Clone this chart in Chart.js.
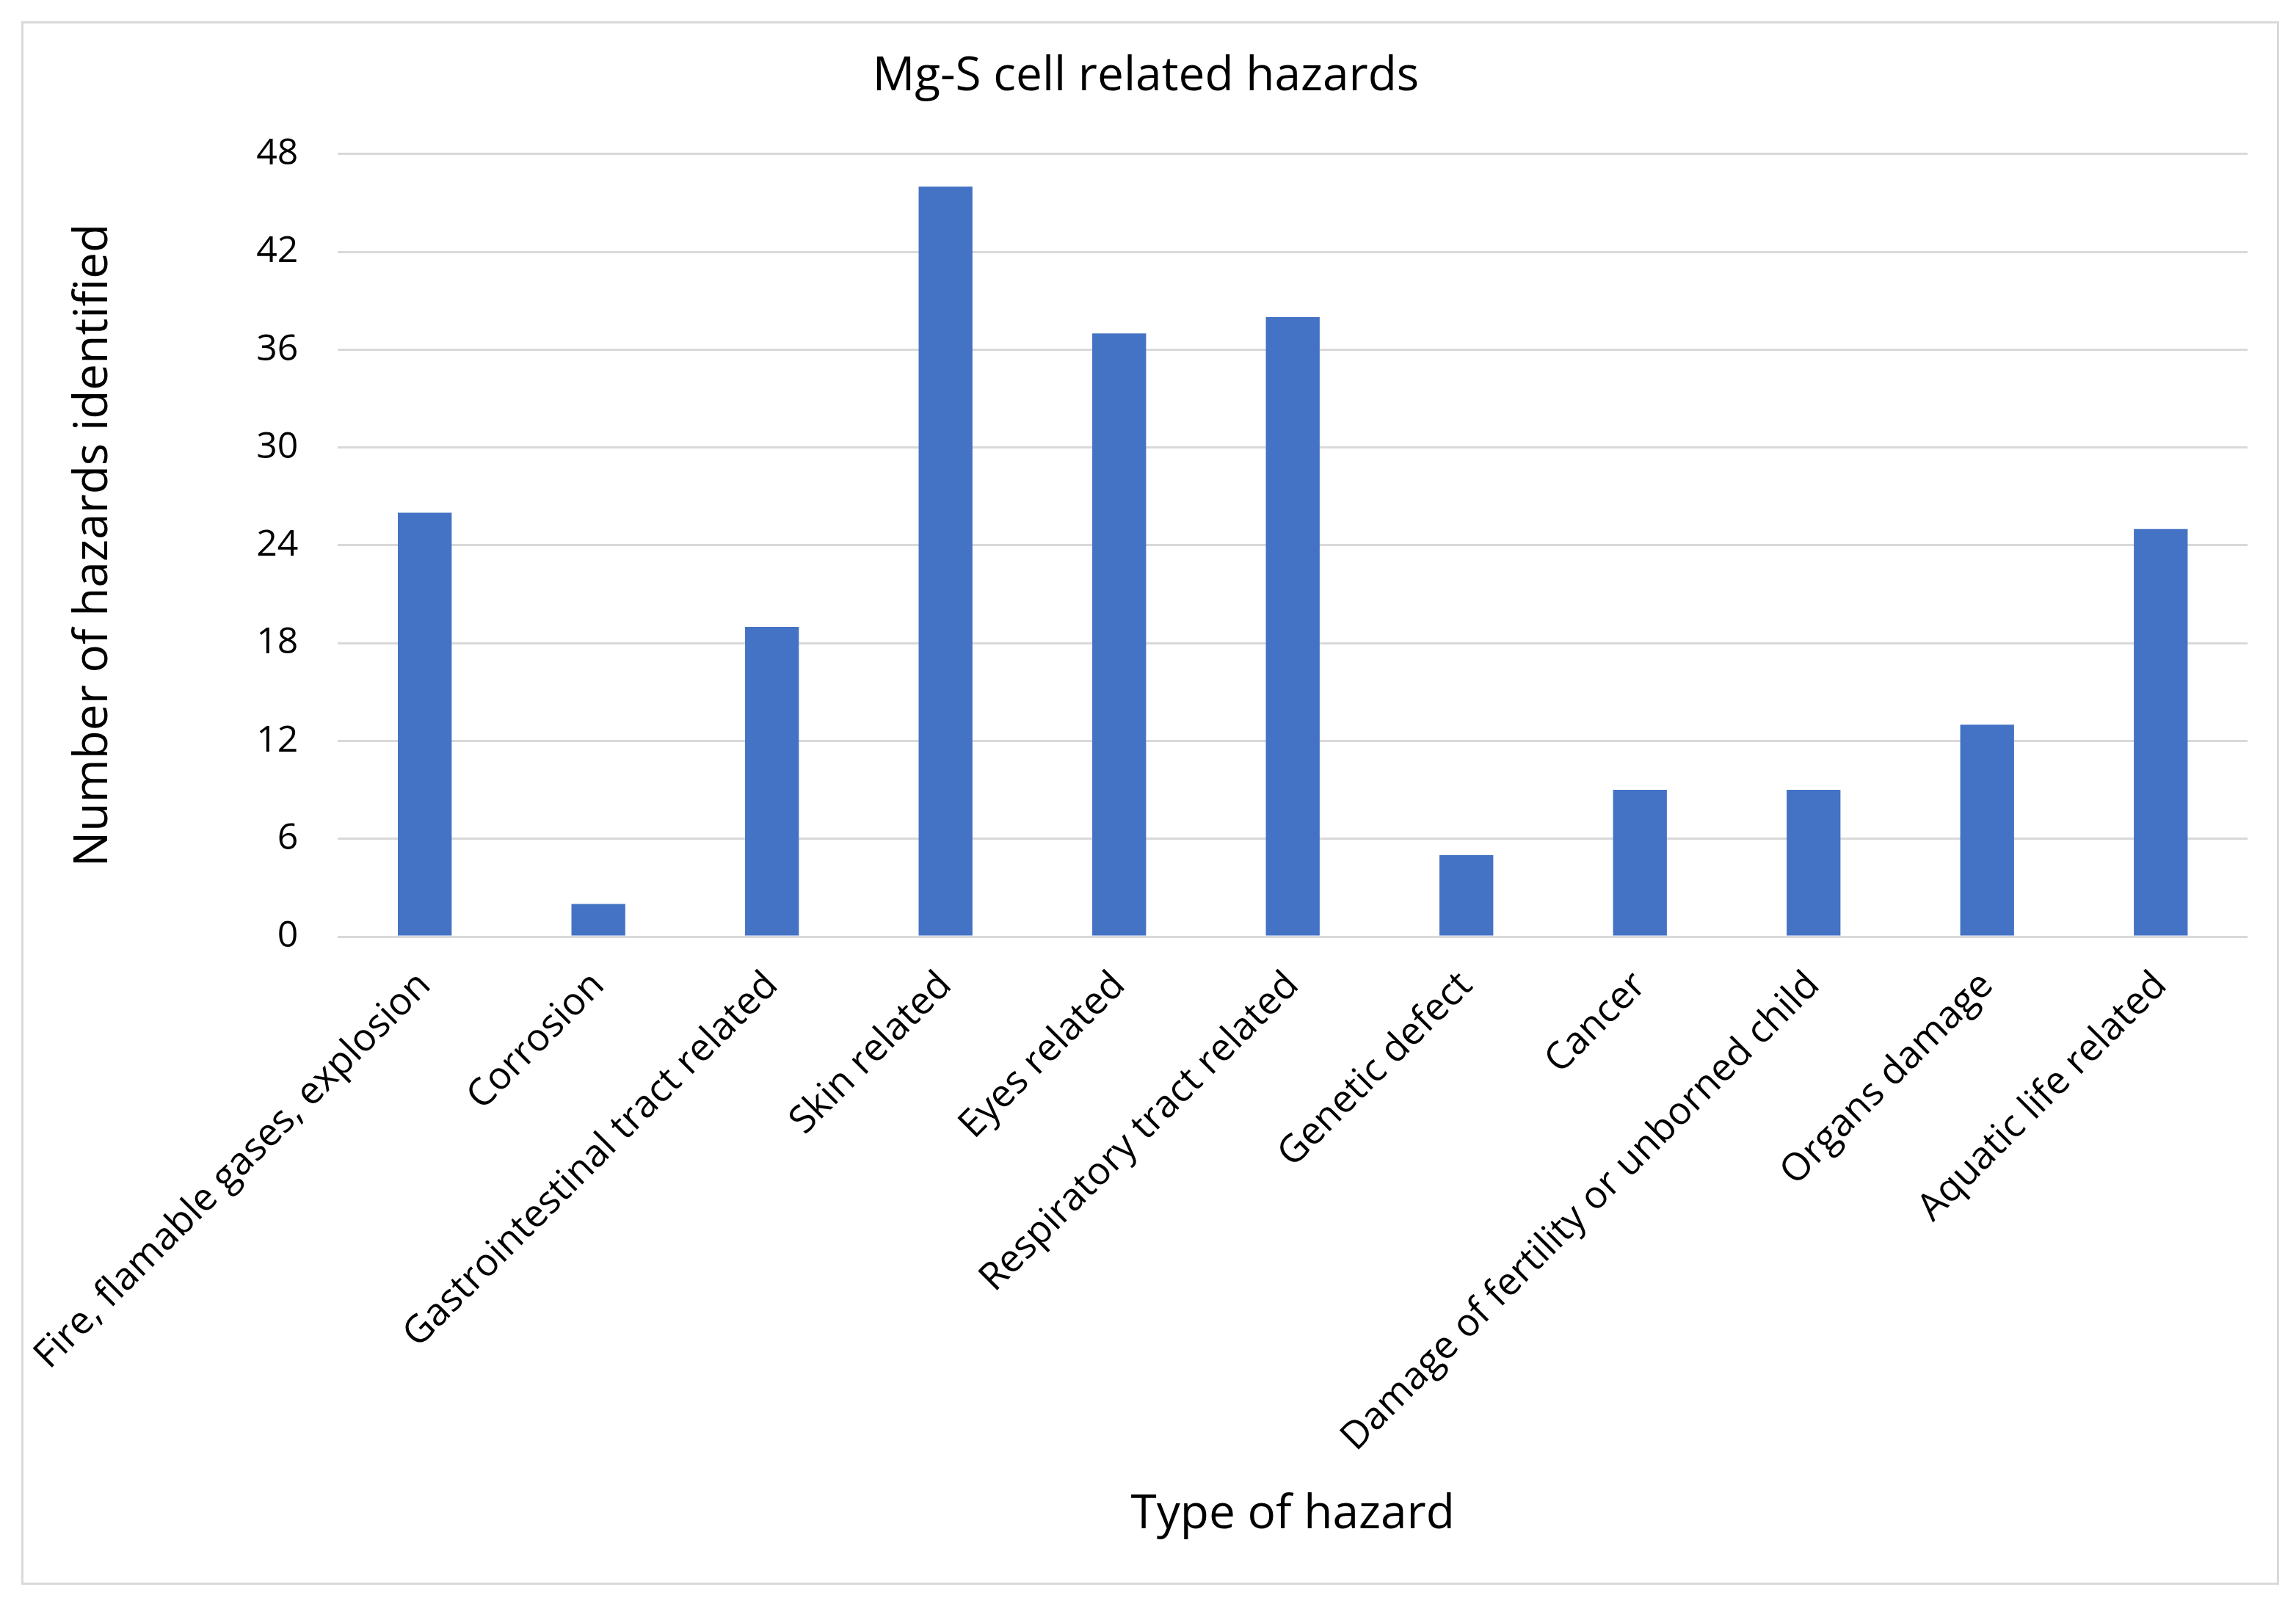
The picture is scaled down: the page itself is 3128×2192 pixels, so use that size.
<!DOCTYPE html>
<html>
<head>
<meta charset="utf-8">
<script src="https://cdn.jsdelivr.net/npm/chart.js@4"></script>
<style>
  html, body { margin: 0; padding: 0; background: #fff; }
  #frame {
    position: absolute; left: 29px; top: 29px;
    width: 3070px; height: 2124px;
    border: 3px solid #d9d9d9;
  }
  #wrap { position: absolute; left: 0; top: 0; width: 3128px; height: 2192px; }
</style>
</head>
<body>
<div id="frame"></div>
<div id="wrap"><canvas id="myChart"></canvas></div>
<script>
const hazardTypes = [
  "Fire, flamable gases, explosion",
  "Corrosion",
  "Gastrointestinal tract related",
  "Skin related",
  "Eyes related",
  "Respiratory tract related",
  "Genetic defect",
  "Cancer",
  "Damage of fertility or unborned child",
  "Organs damage",
  "Aquatic life related",
];
const hazardCounts = [26, 2, 19, 46, 37, 38, 5, 9, 9, 13, 25];
const yTicks = [0, 6, 12, 18, 24, 30, 36, 42, 48];

const ctx = document.getElementById("myChart");
const font = "'Open Sans', 'Noto Sans', sans-serif";

new Chart(ctx, {
  type: "bar",
  data: {
    labels: hazardTypes,
    datasets: [
      {
        label: "Number of hazards",
        data: hazardCounts,
        backgroundColor: "#4472c4",
        borderWidth: 0,
        categoryPercentage: 1,
        barPercentage: 0.31,
      },
    ],
  },
  options: {
    responsive: true,
    maintainAspectRatio: false,
    animation: false,
    devicePixelRatio: 1,
    layout: {
      padding: { left: 60, right: 66, top: 0, bottom: 60 },
    },
    plugins: {
      legend: { display: false },
      tooltip: { enabled: false },
      title: {
        display: true,
        text: "Mg-S cell related hazards",
        color: "#000",
        font: { family: font, size: 64, weight: "normal" },
        padding: { top: 66, bottom: 67 },
      },
    },
    scales: {
      x: {
        grid: { display: false, drawTicks: false },
        border: { display: false },
        ticks: {
          color: "#000",
          font: { family: font, size: 52 },
          minRotation: 45,
          maxRotation: 45,
          autoSkip: false,
          padding: 36,
        },
        title: {
          display: true,
          text: "Type of hazard",
          color: "#000",
          font: { family: font, size: 64 },
          padding: { top: 0, bottom: 30 },
        },
        afterFit(scale) {
          scale.height = 2192 - 60 - 1276;
        },
      },
      y: {
        min: 0,
        max: 48,
        afterBuildTicks(scale) {
          scale.ticks = yTicks.map((v) => ({ value: v }));
        },
        grid: { color: "#d9d9d9", lineWidth: 3, drawTicks: false },
        border: { display: false },
        ticks: {
          color: "#000",
          font: { family: font, size: 50 },
          padding: 54,
        },
        title: {
          display: true,
          text: "Number of hazards identified",
          color: "#000",
          font: { family: font, size: 64 },
          padding: { top: 25, bottom: 0 },
        },
        afterFit(scale) {
          scale.width = 456 - 60;
        },
      },
    },
  },
});
</script>
</body>
</html>
